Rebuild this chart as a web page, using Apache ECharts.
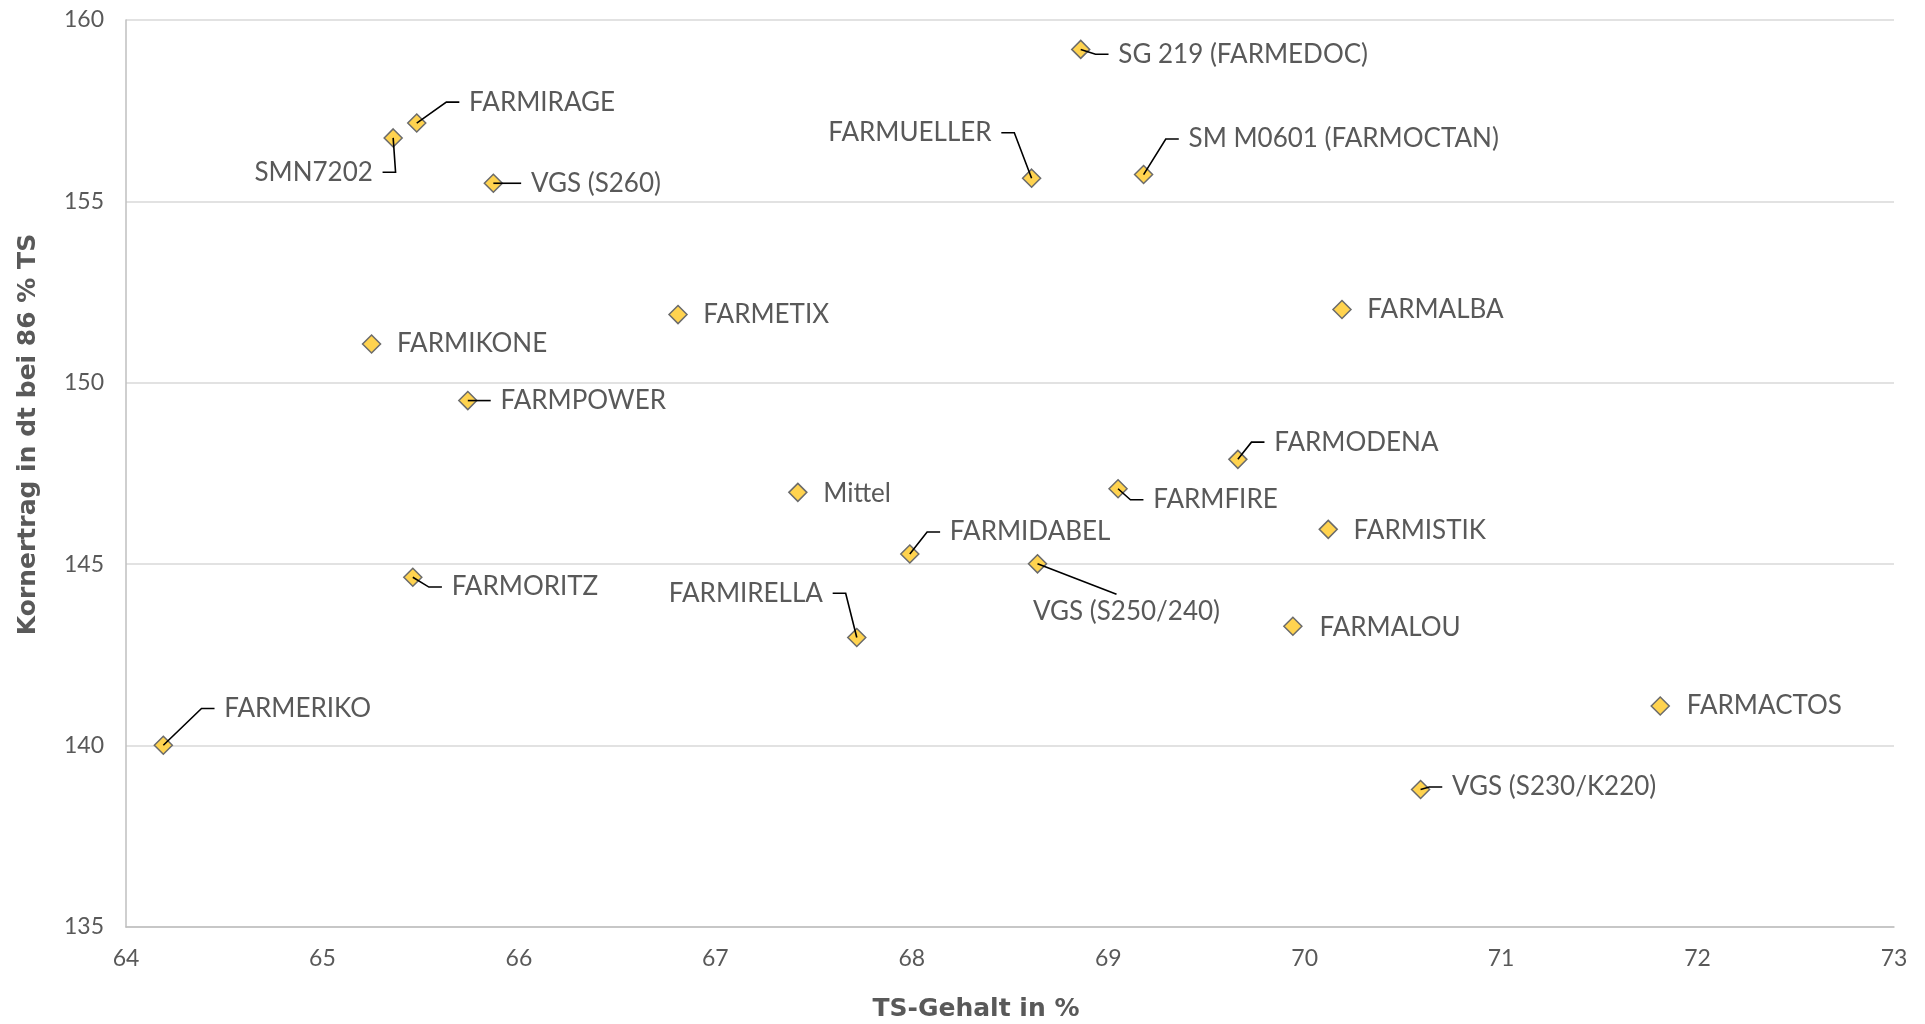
<!DOCTYPE html>
<html><head><meta charset="utf-8">
<script src="https://cdn.jsdelivr.net/npm/echarts@6/dist/echarts.min.js"></script>
<style>html,body{margin:0;padding:0;background:#fff}#c{width:1925px;height:1024px}</style>
</head><body><div id="c"></div>
<script>
// ---- data ----
const names = ['SG 219 (FARMEDOC)','FARMIRAGE','SMN7202','VGS (S260)','FARMUELLER','SM M0601 (FARMOCTAN)',
  'FARMETIX','FARMALBA','FARMIKONE','FARMPOWER','FARMODENA','Mittel','FARMFIRE','FARMISTIK','FARMIDABEL',
  'VGS (S250/240)','FARMORITZ','FARMIRELLA','FARMALOU','FARMERIKO','FARMACTOS','VGS (S230/K220)'];
const tsGehalt = [68.86,65.48,65.36,65.87,68.61,69.18,66.81,70.19,65.25,65.74,69.66,67.42,69.05,70.12,67.99,
  68.64,65.46,67.72,69.94,64.19,71.81,70.59];
const kornertrag = [159.19,157.16,156.75,155.50,155.64,155.74,151.88,152.02,151.07,149.51,147.89,146.98,147.08,
  145.96,145.28,145.01,144.64,142.98,143.29,140.01,141.09,138.79];
const xTicks = {min: 64, max: 73, step: 1};
const yTicks = {min: 135, max: 160, step: 5};

// ---- label placement (style): side, anchor offset from marker centre in px, leader line ----
const placement = {
  'SG 219 (FARMEDOC)':    ['right', 36.8, 4.9, true],
  'FARMIRAGE':            ['right', 51.6, -20.9, true],
  'SMN7202':              ['left', -19.6, 34.4, true],
  'VGS (S260)':           ['right', 36.8, 0, true],
  'FARMUELLER':           ['left', -39.3, -45.4, true],
  'SM M0601 (FARMOCTAN)': ['right', 44.2, -35.6, true],
  'FARMETIX':             ['right', 24.6, 0, false],
  'FARMALBA':             ['right', 24.6, 0, false],
  'FARMIKONE':            ['right', 24.6, 0, false],
  'FARMPOWER':            ['right', 31.9, 0, true],
  'FARMODENA':            ['right', 35.6, -17.2, true],
  'Mittel':               ['right', 24.6, 1.2, false],
  'FARMFIRE':             ['right', 34.4, 11, true],
  'FARMISTIK':            ['right', 24.6, 1.2, false],
  'FARMIDABEL':           ['right', 39.3, -22.1, true],
  'VGS (S250/240)':       ['bottom', 89, 34.4, true],
  'FARMORITZ':            ['right', 38.1, 9.8, true],
  'FARMIRELLA':           ['left', -33.1, -44.2, true],
  'FARMALOU':             ['right', 25.8, 1.2, false],
  'FARMERIKO':            ['right', 60.2, -36.8, true],
  'FARMACTOS':            ['right', 25.8, 0, false],
  'VGS (S230/K220)':      ['right', 30.7, -2.5, true]
};

const TEXT = '#595959';
const HALF = 9;       // half marker size
const GAP = 9, SEG = 13;

const scatterData = names.map((n, i) => {
  const [side, ax, ay] = placement[n];
  let offset;
  if (side === 'right') offset = [ax - HALF, ay];
  else if (side === 'left') offset = [ax + HALF, ay];
  else offset = [ax, ay - HALF];
  return {
    name: n,
    value: [tsGehalt[i], kornertrag[i]],
    label: { position: side, distance: 0, offset: offset }
  };
});
const lineData = names.map((n, i) => [tsGehalt[i], kornertrag[i], i]);

const chart = echarts.init(document.getElementById('c'), null, {renderer: 'canvas'});
chart.setOption({
  backgroundColor: '#fff',
  animation: false,
  grid: {left: 126, right: 31, top: 20, bottom: 97, outerBoundsMode: 'none', containLabel: false},
  xAxis: {
    type: 'value', min: xTicks.min, max: xTicks.max, interval: xTicks.step,
    splitLine: {show: false},
    axisLine: {show: true, lineStyle: {color: '#bfbfbf', width: 1.5}},
    axisTick: {show: false},
    axisLabel: {color: TEXT, fontSize: 23, fontFamily: 'Lato', margin: 20},
    name: 'TS-Gehalt in %', nameLocation: 'middle', nameGap: 70,
    nameTextStyle: {color: TEXT, fontSize: 25, fontWeight: 'bold', fontFamily: 'DejaVu Sans', padding: [0, 68, 0, 0]}
  },
  yAxis: {
    type: 'value', min: yTicks.min, max: yTicks.max, interval: yTicks.step,
    splitLine: {show: true, lineStyle: {color: '#d9d9d9', width: 1.5}},
    axisLine: {show: true, lineStyle: {color: '#bfbfbf', width: 1.5}},
    axisTick: {show: false},
    axisLabel: {color: TEXT, fontSize: 23, fontFamily: 'Lato', margin: 22},
    name: 'Kornertrag in dt bei 86 % TS', nameLocation: 'middle', nameGap: 85, nameRotate: 90,
    nameTextStyle: {color: TEXT, fontSize: 25, fontWeight: 'bold', fontFamily: 'DejaVu Sans', padding: [0, 0, 0, 78]}
  },
  series: [
    {
      type: 'scatter',
      symbol: 'diamond', symbolSize: 18,
      itemStyle: {color: '#FFD34F', borderColor: '#6b6b6b', borderWidth: 1.5, opacity: 1},
      label: {show: true, formatter: '{b}', color: TEXT, fontSize: 26, fontFamily: 'Lato'},
      emphasis: {disabled: true},
      z: 2,
      data: scatterData
    },
    {
      type: 'custom',
      z: 3,
      silent: true,
      encode: {x: 0, y: 1},
      data: lineData,
      renderItem: function (params, api) {
        const n = names[api.value(2)];
        const [side, ax, ay, line] = placement[n];
        if (!line) return null;
        const p = api.coord([api.value(0), api.value(1)]);
        let pts;
        if (side === 'right') {
          const ex = p[0] + ax - GAP, ey = p[1] + ay;
          pts = [p, [ex - SEG, ey], [ex, ey]];
        } else if (side === 'left') {
          const ex = p[0] + ax + GAP, ey = p[1] + ay;
          pts = [p, [ex + SEG, ey], [ex, ey]];
        } else {
          pts = [p, [p[0] + ax - 10, p[1] + ay - 4]];
        }
        return {type: 'polyline', shape: {points: pts}, style: {stroke: '#000', lineWidth: 1.6, fill: null}};
      }
    }
  ]
});
</script>
</body></html>
